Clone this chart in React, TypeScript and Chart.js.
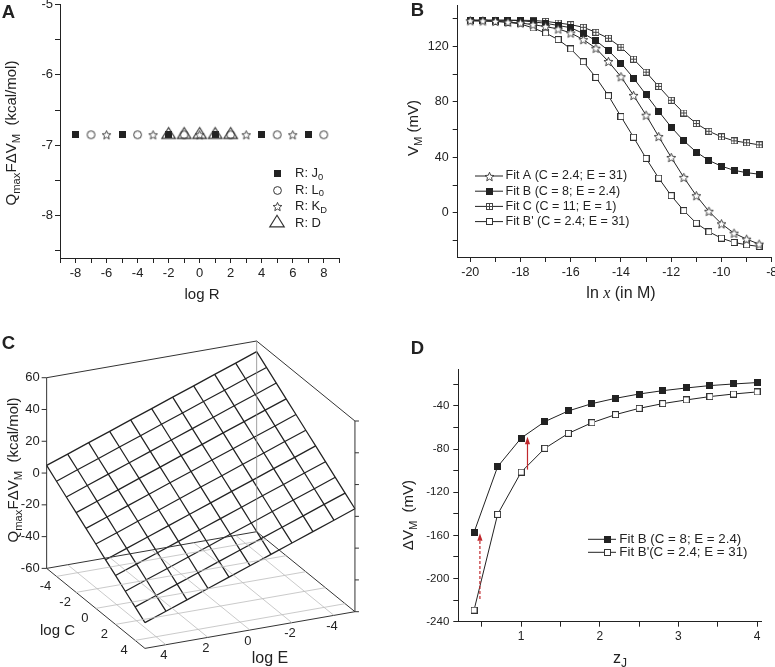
import React, { useEffect, useRef } from 'react';
import { Chart, registerables } from 'chart.js';

Chart.register(...registerables);

const FONT = '"Liberation Sans", Arial, Helvetica, sans-serif';
const INK = '#222';
const RED = '#c0282d';

// ================= Panel A data =================
const aJ0X = [-8, -5, -2, 1, 4, 7];
const aJ0Y = [-6.85, -6.85, -6.85, -6.85, -6.85, -6.85];
const aL0X = [-7, -4, -1, 2, 5, 8];
const aL0Y = [-6.85, -6.85, -6.85, -6.85, -6.85, -6.85];
const aKDX = [-6, -3, 0, 3, 6];
const aKDY = [-6.85, -6.85, -6.85, -6.85, -6.85];
const aDX = [-2, -1, 0, 1, 2];
const aDY = [-6.85, -6.85, -6.85, -6.85, -6.85];
const aXTicks = [-9, -8, -7, -6, -5, -4, -3, -2, -1, 0, 1, 2, 3, 4, 5, 6, 7, 8, 9];
const aXLabels = [-8, -6, -4, -2, 0, 2, 4, 6, 8];
const aYTicks = [-8.5, -8, -7.5, -7, -6.5, -6, -5.5, -5];
const aYLabels = [-8, -7, -6, -5];

// ================= Panel B data =================
const bX = [-20, -19.5, -19, -18.5, -18, -17.5, -17, -16.5, -16, -15.5, -15, -14.5, -14, -13.5, -13, -12.5, -12, -11.5, -11, -10.5, -10, -9.5, -9, -8.5];
const bFitA = [138.6, 138.5, 138.2, 137.6, 137, 135.8, 134.4, 132.7, 129.8, 125, 118.8, 109.2, 98.2, 84.7, 70.4, 55, 39.9, 25.5, 12.3, 1, -8, -14.8, -19.1, -22.7];
const bFitB = [139, 139, 139, 139, 138.7, 137.8, 136.8, 135.2, 133.6, 129.4, 124.3, 117.1, 108, 97.2, 85.2, 73.2, 61.8, 51.9, 43.8, 37.7, 33.6, 30.6, 28.9, 27.8];
const bFitC = [139, 139, 139, 139, 139, 138.8, 138.2, 137, 135.8, 133.9, 130.3, 126, 119.5, 110.9, 101.5, 91.2, 81.2, 72, 64.4, 58.8, 54.8, 51.9, 50.5, 49];
const bFitBp = [138.7, 138.5, 138.2, 137.5, 136.3, 133.4, 129.8, 125, 118.3, 109, 97.7, 84.5, 69.4, 54.5, 39.2, 25, 12.3, 1.5, -7.6, -13.8, -18.4, -21.5, -23.2, -24.4];
const bXTicks = [-20, -19, -18, -17, -16, -15, -14, -13, -12, -11, -10, -9, -8];
const bXLabels = [-20, -18, -16, -14, -12, -10, -8];
const bYTicks = [-20, 0, 20, 40, 60, 80, 100, 120, 140];
const bYLabels = [0, 40, 80, 120];

// ================= Panel C data =================
const cGridC = [-5, -4, -3, -2, -1, 0, 1, 2, 3, 4, 5];
const cGridE = [-5, -4, -3, -2, -1, 0, 1, 2, 3, 4, 5];
// surface height Qmax F dVM, rows = log C, columns = log E
const cSurfZ = [
  [53.3, 48.4, 43.6, 38.7, 33.9, 29.0, 24.2, 19.3, 14.5, 9.6, 4.8],
  [48.4, 43.6, 38.7, 33.9, 29.0, 24.2, 19.3, 14.5, 9.6, 4.8, -0.1],
  [43.6, 38.7, 33.9, 29.0, 24.2, 19.3, 14.5, 9.6, 4.8, -0.1, -5.0],
  [38.7, 33.9, 29.0, 24.2, 19.3, 14.5, 9.6, 4.8, -0.1, -5.0, -9.8],
  [33.9, 29.0, 24.2, 19.3, 14.5, 9.6, 4.8, -0.1, -5.0, -9.8, -14.7],
  [29.0, 24.2, 19.3, 14.5, 9.6, 4.8, -0.1, -5.0, -9.8, -14.7, -19.5],
  [24.2, 19.3, 14.5, 9.6, 4.8, -0.1, -5.0, -9.8, -14.7, -19.5, -24.4],
  [19.3, 14.5, 9.6, 4.8, -0.1, -5.0, -9.8, -14.7, -19.5, -24.4, -29.2],
  [14.5, 9.6, 4.8, -0.1, -5.0, -9.8, -14.7, -19.5, -24.4, -29.2, -34.1],
  [9.6, 4.8, -0.1, -5.0, -9.8, -14.7, -19.5, -24.4, -29.2, -34.1, -38.9],
  [4.8, -0.1, -5.0, -9.8, -14.7, -19.5, -24.4, -29.2, -34.1, -38.9, -43.8],
];
const cBoxC = [-5, 5];
const cBoxE = [-5, 5];
const cBoxZ = [-60, 60];
const cFloorTicks = [-4, -2, 0, 2, 4];
const cZTicks = [-60, -40, -20, 0, 20, 40, 60];
const cCLabels = [-4, -2, 0, 2, 4];
const cELabels = [4, 2, 0, -2, -4];

// ================= Panel D data =================
const dX = [0.4, 0.7, 1.0, 1.3, 1.6, 1.9, 2.2, 2.5, 2.8, 3.1, 3.4, 3.7, 4.0];
const dFitB = [-157.2, -96.3, -69.7, -54.5, -44.6, -37.8, -32.9, -28.9, -25.8, -23.3, -21.1, -19.6, -18.3];
const dFitBp = [-229.3, -140.5, -101.3, -79.3, -65.4, -55.5, -48, -42.2, -37.8, -34.4, -31.3, -28.9, -27];
const dArrowX = [0.475, 1.08];
const dArrowFrom = [-219, -99];
const dArrowTo = [-158, -68.5];
const dArrowDashed = [true, false];
const dXTicks = [0.5, 1, 1.5, 2, 2.5, 3, 3.5, 4];
const dXLabels = [1, 2, 3, 4];
const dYTicks = [-240, -220, -200, -180, -160, -140, -120, -100, -80, -60, -40, -20];
const dYLabels = [-240, -200, -160, -120, -80, -40];

// ================= helpers =================
type Part = { t: string; sub?: boolean };

function drawRich(ctx: CanvasRenderingContext2D, parts: Part[], x: number, y: number, size: number) {
  let cx = x;
  ctx.fillStyle = INK;
  ctx.textAlign = 'left';
  ctx.textBaseline = 'middle';
  for (const p of parts) {
    const fs = p.sub ? size * 0.72 : size;
    ctx.font = `${fs}px ${FONT}`;
    ctx.fillText(p.t, cx, p.sub ? y + size * 0.3 : y);
    cx += ctx.measureText(p.t).width;
  }
}

function mk(w: number, h: number, draw: (ctx: CanvasRenderingContext2D) => void) {
  const c = document.createElement('canvas');
  c.width = w;
  c.height = h;
  const ctx = c.getContext('2d')!;
  ctx.translate(w / 2, h / 2);
  ctx.strokeStyle = INK;
  ctx.fillStyle = INK;
  ctx.lineWidth = 1;
  draw(ctx);
  return c;
}

const filledSquare = (s: number) => mk(s, s, (ctx) => ctx.fillRect(-s / 2, -s / 2, s, s));
const openSquare = (s: number) =>
  mk(s, s, (ctx) => {
    ctx.fillStyle = '#fff';
    ctx.fillRect(-s / 2, -s / 2, s, s);
    ctx.strokeStyle = '#333';
    ctx.strokeRect(-s / 2 + 0.5, -s / 2 + 0.5, s - 1, s - 1);
  });
const crossSquare = (s: number) =>
  mk(s, s, (ctx) => {
    ctx.fillStyle = '#fff';
    ctx.fillRect(-s / 2, -s / 2, s, s);
    ctx.strokeStyle = '#444';
    ctx.strokeRect(-s / 2 + 0.5, -s / 2 + 0.5, s - 1, s - 1);
    ctx.beginPath();
    ctx.moveTo(0, -s / 2);
    ctx.lineTo(0, s / 2);
    ctx.moveTo(-s / 2, 0);
    ctx.lineTo(s / 2, 0);
    ctx.stroke();
  });
const openStar = (R: number) =>
  mk(Math.ceil(2 * R + 3), Math.ceil(2 * R + 3), (ctx) => {
    ctx.beginPath();
    for (let i = 0; i < 10; i++) {
      const r = i % 2 === 0 ? R : R * 0.45;
      const a = -Math.PI / 2 + (i * Math.PI) / 5;
      const px = r * Math.cos(a);
      const py = r * Math.sin(a) + R * 0.1;
      if (i === 0) ctx.moveTo(px, py);
      else ctx.lineTo(px, py);
    }
    ctx.closePath();
    ctx.fillStyle = '#fff';
    ctx.fill();
    ctx.strokeStyle = '#333';
    ctx.lineWidth = 0.9;
    ctx.stroke();
  });
const openCircle = (r: number) =>
  mk(Math.ceil(2 * r + 3), Math.ceil(2 * r + 3), (ctx) => {
    ctx.beginPath();
    ctx.arc(0, 0, r, 0, Math.PI * 2);
    ctx.fillStyle = '#fff';
    ctx.fill();
    ctx.strokeStyle = '#333';
    ctx.stroke();
  });
const openTriangle = (w: number, h: number) =>
  mk(Math.ceil(w + 3), Math.ceil(2 * h * 0.7 + 3), (ctx) => {
    ctx.beginPath();
    ctx.moveTo(0, (-2 * h) / 3);
    ctx.lineTo(w / 2, h / 3);
    ctx.lineTo(-w / 2, h / 3);
    ctx.closePath();
    ctx.strokeStyle = '#333';
    ctx.lineWidth = 1.15;
    ctx.stroke();
  });

function linAxis(o: {
  axis: 'x' | 'y';
  min: number;
  max: number;
  ticks: number[];
  labels: number[];
  size: number;
  fit: number;
  pad: number;
}) {
  return {
    type: 'linear',
    position: o.axis === 'x' ? 'bottom' : 'left',
    min: o.min,
    max: o.max,
    afterBuildTicks: (s: any) => {
      s.ticks = o.ticks.map((v) => ({ value: v }));
    },
    afterFit: (s: any) => {
      if (o.axis === 'x') s.height = o.fit;
      else s.width = o.fit;
    },
    ticks: {
      autoSkip: false,
      maxRotation: 0,
      minRotation: 0,
      padding: o.pad,
      color: INK,
      font: { size: o.size, family: FONT },
      callback: (v: any) => (o.labels.some((l) => Math.abs(l - Number(v)) < 1e-9) ? String(v) : ''),
    },
    grid: {
      display: true,
      drawOnChartArea: false,
      drawTicks: true,
      tickLength: 5,
      tickWidth: 1,
      tickColor: INK,
      color: INK,
    },
    border: { display: true, color: INK, width: 1 },
  };
}

type LegendItem = { marker: HTMLCanvasElement; parts: Part[]; line?: boolean };
function legendPlugin(
  id: string,
  items: LegendItem[],
  cfg: { markerX: number; lineX0: number; lineX1: number; textX: number; y0: number; dy: number; size: number }
) {
  return {
    id,
    afterDraw(chart: any) {
      const ctx: CanvasRenderingContext2D = chart.ctx;
      ctx.save();
      items.forEach((it, i) => {
        const y = cfg.y0 + i * cfg.dy;
        if (it.line) {
          ctx.strokeStyle = INK;
          ctx.lineWidth = 1;
          ctx.beginPath();
          ctx.moveTo(cfg.lineX0, y);
          ctx.lineTo(cfg.lineX1, y);
          ctx.stroke();
        }
        ctx.drawImage(it.marker, Math.round(cfg.markerX - it.marker.width / 2), Math.round(y - it.marker.height / 2));
        drawRich(ctx, it.parts, cfg.textX, y, cfg.size);
      });
      ctx.restore();
    },
  };
}

const pts = (xs: number[], ys: number[]) => xs.map((x, i) => ({ x, y: ys[i] }));

// ================= Panel A =================
function makeA(canvas: HTMLCanvasElement) {
  const sq = filledSquare(7);
  const circ = openCircle(3.9);
  const star = openStar(4.6);
  const tri = openTriangle(13.5, 10.8);
  const triL = openTriangle(14.5, 11.6);
  const pointDs = (label: string, xs: number[], ys: number[], marker: HTMLCanvasElement, order: number) => ({
    label,
    data: pts(xs, ys),
    showLine: false,
    pointStyle: marker,
    pointRadius: 4,
    order,
  });
  return new Chart(canvas, {
    type: 'scatter',
    data: {
      datasets: [
        pointDs('R: D', aDX, aDY, tri, 0),
        pointDs('R: KD', aKDX, aKDY, star, 1),
        pointDs('R: L0', aL0X, aL0Y, circ, 2),
        pointDs('R: J0', aJ0X, aJ0Y, sq, 3),
      ],
    },
    options: {
      responsive: false,
      animation: false,
      devicePixelRatio: 1,
      layout: { padding: { left: 0, top: 24.5, right: 40.7, bottom: 0 } },
      plugins: { legend: { display: false }, tooltip: { enabled: false } },
      scales: {
        x: linAxis({ axis: 'x', min: -9, max: 9, ticks: aXTicks, labels: aXLabels, size: 13, fit: 72, pad: 3 }),
        y: linAxis({ axis: 'y', min: -8.6, max: -5, ticks: aYTicks, labels: aYLabels, size: 13, fit: 60, pad: 2 }),
      } as any,
    },
    plugins: [
      legendPlugin(
        'legA',
        [
          { marker: sq, parts: [{ t: 'R: J' }, { t: '0', sub: true }] },
          { marker: circ, parts: [{ t: 'R: L' }, { t: '0', sub: true }] },
          { marker: star, parts: [{ t: 'R: K' }, { t: 'D', sub: true }] },
          { marker: triL, parts: [{ t: 'R: D' }] },
        ],
        { markerX: 277, lineX0: 0, lineX1: 0, textX: 295, y0: 193.5, dy: 16.5, size: 13 }
      ),
    ],
  } as any);
}

// ================= Panel B =================
function makeB(canvas: HTMLCanvasElement) {
  const star = openStar(4.7);
  const fsq = filledSquare(7);
  const xsq = crossSquare(7);
  const osq = openSquare(7);
  const lineDs = (label: string, ys: number[], marker: HTMLCanvasElement) => ({
    label,
    data: pts(bX, ys),
    showLine: true,
    borderColor: INK,
    borderWidth: 1,
    pointStyle: marker,
    pointRadius: 4,
  });
  return new Chart(canvas, {
    type: 'scatter',
    data: {
      datasets: [
        lineDs('Fit A (C = 2.4; E = 31)', bFitA, star),
        lineDs('Fit B (C = 8; E = 2.4)', bFitB, fsq),
        lineDs('Fit C (C = 11; E = 1)', bFitC, xsq),
        lineDs("Fit B' (C = 2.4; E = 31)", bFitBp, osq),
      ],
    },
    options: {
      responsive: false,
      animation: false,
      devicePixelRatio: 1,
      layout: { padding: { left: 0, top: 25, right: 28.3, bottom: 0 } },
      plugins: { legend: { display: false }, tooltip: { enabled: false } },
      scales: {
        x: linAxis({ axis: 'x', min: -20.5, max: -8, ticks: bXTicks, labels: bXLabels, size: 12.5, fit: 73, pad: 3 }),
        y: linAxis({ axis: 'y', min: -32, max: 150, ticks: bYTicks, labels: bYLabels, size: 12.5, fit: 77.7, pad: 4 }),
      } as any,
    },
    plugins: [
      legendPlugin(
        'legB',
        [
          { marker: star, parts: [{ t: 'Fit A (C = 2.4; E = 31)' }], line: true },
          { marker: fsq, parts: [{ t: 'Fit B (C = 8; E = 2.4)' }], line: true },
          { marker: xsq, parts: [{ t: 'Fit C (C = 11; E = 1)' }], line: true },
          { marker: osq, parts: [{ t: "Fit B' (C = 2.4; E = 31)" }], line: true },
        ],
        { markerX: 109.5, lineX0: 95, lineX1: 123, textX: 125.5, y0: 196, dy: 15.2, size: 12.5 }
      ),
    ],
  } as any);
}

// ================= Panel C =================
const VIEW = { ox: 200.8, oy: 164.7, cx: 9.83, cy: 8, ex: -21, ey: 3.67, zy: -1.589 };
function proj(c: number, e: number, z: number) {
  return { x: VIEW.ox + VIEW.cx * c + VIEW.ex * e, y: VIEW.oy + VIEW.cy * c + VIEW.ey * e + VIEW.zy * z };
}

function makeC(canvas: HTMLCanvasElement) {
  const [c0, c1] = cBoxC;
  const [e0, e1] = cBoxE;
  const [z0, z1] = cBoxZ;
  const line = (p: { x: number; y: number }[], color: string, width: number) => ({
    data: p,
    showLine: true,
    borderColor: color,
    borderWidth: width,
    pointRadius: 0,
    clip: false,
  });
  const ds: any[] = [];
  // floor grid
  cFloorTicks.forEach((c) => ds.push(line([proj(c, e1, z0), proj(c, e0, z0)], '#bdbdbd', 0.8)));
  cFloorTicks.forEach((e) => ds.push(line([proj(c0, e, z0), proj(c1, e, z0)], '#bdbdbd', 0.8)));
  // back vertical edge
  ds.push(line([proj(c0, e0, z0), proj(c0, e0, z1)], '#8a8a8a', 0.8));
  // box edges
  ds.push(line([proj(c0, e1, z1), proj(c0, e0, z1), proj(c1, e0, z1)], '#333', 1));
  ds.push(
    line([proj(c0, e1, z0), proj(c1, e1, z0), proj(c1, e0, z0), proj(c0, e0, z0), proj(c0, e1, z0)], '#333', 1)
  );
  ds.push(line([proj(c0, e1, z0), proj(c0, e1, z1)], '#333', 1));
  ds.push(line([proj(c1, e0, z0), proj(c1, e0, z1)], '#333', 1));
  // surface mesh
  cGridC.forEach((c, i) => ds.push(line(cGridE.map((e, j) => proj(c, e, cSurfZ[i][j])), '#222', 1.25)));
  cGridE.forEach((e, j) => ds.push(line(cGridC.map((c, i) => proj(c, e, cSurfZ[i][j])), '#222', 1.25)));

  const tickPlugin = {
    id: 'cTicks',
    afterDraw(chart: any) {
      const ctx: CanvasRenderingContext2D = chart.ctx;
      const xs = chart.scales.x;
      const ys = chart.scales.y;
      const P = (c: number, e: number, z: number) => {
        const p = proj(c, e, z);
        return [xs.getPixelForValue(p.x), ys.getPixelForValue(p.y)];
      };
      ctx.save();
      ctx.strokeStyle = '#333';
      ctx.lineWidth = 1;
      ctx.fillStyle = INK;
      ctx.font = `13px ${FONT}`;
      ctx.textBaseline = 'middle';
      cZTicks.forEach((z) => {
        const [px, py] = P(c0, e1, z);
        ctx.beginPath();
        ctx.moveTo(px - 5, py);
        ctx.lineTo(px, py);
        ctx.stroke();
        ctx.textAlign = 'right';
        ctx.fillText(String(z), px - 7, py);
        const [qx, qy] = P(c1, e0, z);
        ctx.beginPath();
        ctx.moveTo(qx, qy);
        ctx.lineTo(qx + 4, qy);
        ctx.stroke();
      });
      ctx.textAlign = 'center';
      cCLabels.forEach((c) => {
        const [px, py] = P(c, e1, z0);
        ctx.fillText(String(c), px - 11, py + 10);
      });
      cELabels.forEach((e) => {
        const [px, py] = P(c1, e, z0);
        ctx.fillText(String(e), px - 2, py + 11);
      });
      ctx.restore();
    },
  };

  return new Chart(canvas, {
    type: 'scatter',
    data: { datasets: ds },
    options: {
      responsive: false,
      animation: false,
      devicePixelRatio: 1,
      layout: { padding: 0 },
      plugins: { legend: { display: false }, tooltip: { enabled: false } },
      scales: {
        x: { type: 'linear', display: false, min: 0, max: 380 },
        y: { type: 'linear', display: false, min: 0, max: 337, reverse: true },
      },
    },
    plugins: [tickPlugin],
  } as any);
}

// ================= Panel D =================
function makeD(canvas: HTMLCanvasElement) {
  const fsq = filledSquare(7);
  const osq = openSquare(7);
  const lineDs = (label: string, ys: number[], marker: HTMLCanvasElement) => ({
    label,
    data: pts(dX, ys),
    showLine: true,
    borderColor: INK,
    borderWidth: 1,
    pointStyle: marker,
    pointRadius: 4,
  });
  const arrowPlugin = {
    id: 'arrowsD',
    afterDatasetsDraw(chart: any) {
      const ctx: CanvasRenderingContext2D = chart.ctx;
      const xs = chart.scales.x;
      const ys = chart.scales.y;
      dArrowX.forEach((ax, i) => {
        const px = xs.getPixelForValue(ax);
        const p0 = ys.getPixelForValue(dArrowFrom[i]);
        const p1 = ys.getPixelForValue(dArrowTo[i]);
        ctx.save();
        ctx.strokeStyle = RED;
        ctx.fillStyle = RED;
        ctx.lineWidth = 1.2;
        if (dArrowDashed[i]) ctx.setLineDash([3, 2]);
        ctx.beginPath();
        ctx.moveTo(px, p0);
        ctx.lineTo(px, p1 + 6);
        ctx.stroke();
        ctx.setLineDash([]);
        ctx.beginPath();
        ctx.moveTo(px, p1);
        ctx.lineTo(px - 2.6, p1 + 7.5);
        ctx.lineTo(px + 2.6, p1 + 7.5);
        ctx.closePath();
        ctx.fill();
        ctx.restore();
      });
    },
  };
  return new Chart(canvas, {
    type: 'scatter',
    data: {
      datasets: [lineDs('Fit B (C = 8; E = 2.4)', dFitB, fsq), lineDs("Fit B'(C = 2.4; E = 31)", dFitBp, osq)],
    },
    options: {
      responsive: false,
      animation: false,
      devicePixelRatio: 1,
      layout: { padding: { left: 0, top: 59.3, right: 39, bottom: 0 } },
      plugins: { legend: { display: false }, tooltip: { enabled: false } },
      scales: {
        x: linAxis({ axis: 'x', min: 0.2, max: 4.05, ticks: dXTicks, labels: dXLabels, size: 12, fit: 45.3, pad: 3 }),
        y: linAxis({ axis: 'y', min: -240, max: -6, ticks: dYTicks, labels: dYLabels, size: 11.5, fit: 78.3, pad: 4 }),
      } as any,
    },
    plugins: [
      arrowPlugin,
      legendPlugin(
        'legD',
        [
          { marker: fsq, parts: [{ t: 'Fit B (C = 8; E = 2.4)' }], line: true },
          { marker: osq, parts: [{ t: "Fit B'(C = 2.4; E = 31)" }], line: true },
        ],
        { markerX: 227, lineX0: 208, lineX1: 236, textX: 239.3, y0: 229.3, dy: 13, size: 13.3 }
      ),
    ],
  } as any);
}

// ================= HTML text =================
const Sub = ({ children }: { children: React.ReactNode }) => (
  <span style={{ fontSize: '0.75em', position: 'relative', top: '0.32em' }}>{children}</span>
);

function Txt(props: { x: number; y: number; size: number; rot?: boolean; bold?: boolean; children: React.ReactNode }) {
  return (
    <div
      style={{
        position: 'absolute',
        left: props.x,
        top: props.y,
        transform: `translate(-50%, -50%)${props.rot ? ' rotate(-90deg)' : ''}`,
        fontFamily: FONT,
        fontSize: props.size,
        fontWeight: props.bold ? 'bold' : 'normal',
        whiteSpace: 'nowrap',
        lineHeight: 1,
        color: INK,
      }}
    >
      {props.children}
    </div>
  );
}

export default function App() {
  const aRef = useRef<HTMLCanvasElement>(null);
  const bRef = useRef<HTMLCanvasElement>(null);
  const cRef = useRef<HTMLCanvasElement>(null);
  const dRef = useRef<HTMLCanvasElement>(null);

  useEffect(() => {
    const charts = [makeA(aRef.current!), makeB(bRef.current!), makeC(cRef.current!), makeD(dRef.current!)];
    return () => charts.forEach((c) => c.destroy());
  }, []);

  const qLabel = (
    <>
      Q<Sub>max</Sub>FΔV<Sub>M</Sub>
      {'\u00a0\u00a0'}(kcal/mol)
    </>
  );

  return (
    <div
      style={{
        position: 'absolute',
        left: 0,
        top: 0,
        width: 775,
        height: 667,
        overflow: 'hidden',
        background: '#fff',
      }}
    >
      <canvas ref={aRef} width={380} height={350} style={{ position: 'absolute', left: 0, top: -20 }} />
      <canvas ref={bRef} width={420} height={350} style={{ position: 'absolute', left: 380, top: -20 }} />
      <canvas ref={cRef} width={380} height={337} style={{ position: 'absolute', left: 0, top: 330 }} />
      <canvas ref={dRef} width={420} height={357} style={{ position: 'absolute', left: 380, top: 310 }} />

      <Txt x={8.5} y={11.5} size={18.5} bold>A</Txt>
      <Txt x={417.5} y={10} size={18.5} bold>B</Txt>
      <Txt x={8.5} y={343.3} size={18.5} bold>C</Txt>
      <Txt x={417.5} y={348.3} size={18.5} bold>D</Txt>

      <Txt x={11} y={133} size={15} rot>{qLabel}</Txt>
      <Txt x={202} y={293} size={15}>log R</Txt>

      <Txt x={413} y={128} size={15} rot>
        V<Sub>M</Sub> (mV)
      </Txt>
      <Txt x={621} y={293} size={16}>
        ln <span style={{ fontFamily: '"Liberation Serif", "DejaVu Serif", serif', fontStyle: 'italic' }}>x</span> (in M)
      </Txt>

      <Txt x={13} y={470} size={15} rot>{qLabel}</Txt>
      <Txt x={57.5} y={629} size={15}>log C</Txt>
      <Txt x={270} y={658} size={16}>log E</Txt>

      <Txt x={408} y={515} size={15} rot>
        ΔV<Sub>M</Sub>
        {'\u00a0\u00a0'}(mV)
      </Txt>
      <Txt x={620} y={658} size={16}>
        z<Sub>J</Sub>
      </Txt>
    </div>
  );
}
